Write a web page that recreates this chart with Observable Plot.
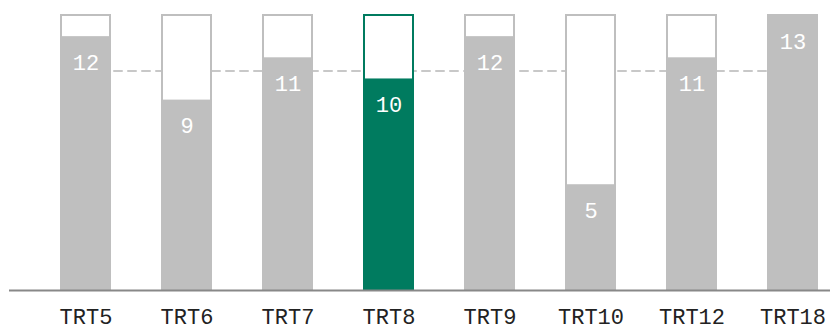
<!DOCTYPE html>
<html>
<head>
<meta charset="utf-8">
<script src="https://cdn.jsdelivr.net/npm/d3@7"></script>
<script src="https://cdn.jsdelivr.net/npm/@observablehq/plot@0.6"></script>
<style>
  html, body { margin: 0; padding: 0; background: #fff; }
  svg { display: block; }
</style>
</head>
<body>
<div id="chart"></div>
<script>
const categories = ["TRT5", "TRT6", "TRT7", "TRT8", "TRT9", "TRT10", "TRT12", "TRT18"];
const values = [12, 9, 11, 10, 12, 5, 11, 13];
const highlight = "TRT8";

const data = categories.map((c, i) => ({cat: c, value: values[i]}));
const maxValue = d3.max(values);
const meanValue = d3.mean(values);

const GRAY = "#bfbfbf";
const GREEN = "#007b5f";
const FONT = "'Courier New', Courier, 'Nimbus Mono PS', FreeMono, monospace";

const chart = Plot.plot({
  width: 830,
  height: 324,
  marginTop: 15,
  marginBottom: 34,
  marginLeft: 9,
  marginRight: 0,
  style: {fontFamily: FONT, background: "#fff"},
  x: {domain: categories, paddingInner: 0.5, paddingOuter: 0.31, align: 0.81, axis: null},
  y: {domain: [0, maxValue], axis: null},
  marks: [
    Plot.line(data, {x: "cat", y: () => meanValue, stroke: "#c8c8c8", strokeWidth: 2, strokeDasharray: "8,6"}),
    Plot.barY(data, {x: "cat", y: () => maxValue, fill: "#fff",
      stroke: d => d.cat === highlight ? GREEN : GRAY, strokeWidth: 2, insetLeft: 1, insetRight: 1}),
    Plot.barY(data, {x: "cat", y: "value", fill: d => d.cat === highlight ? GREEN : GRAY}),
    Plot.text(data, {x: "cat", y: "value", text: d => String(d.value), fill: "#fff",
      fontSize: 22, dy: 26, lineAnchor: "middle"}),
    Plot.ruleY([0], {stroke: "#888", strokeWidth: 2}),
    Plot.axisX({tickSize: 0, tickPadding: 18, fontSize: 22, color: "#222", fontFamily: FONT, label: null})
  ]
});
document.getElementById("chart").appendChild(chart);
</script>
</body>
</html>
